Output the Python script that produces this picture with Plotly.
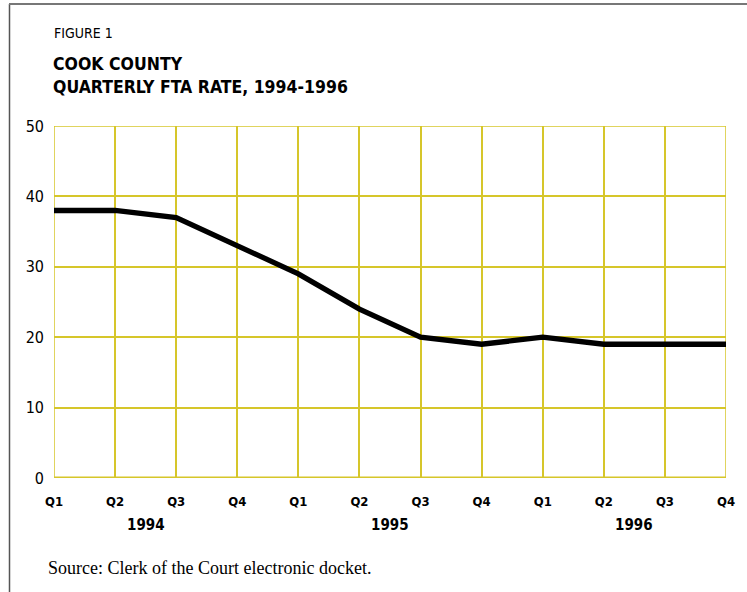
import plotly.graph_objects as go

quarters = ["Q1", "Q2", "Q3", "Q4", "Q1", "Q2", "Q3", "Q4", "Q1", "Q2", "Q3", "Q4"]
years = ["1994", "1995", "1996"]
fta_rate = [38, 38, 37, 33, 29, 24, 20, 19, 20, 19, 19, 19]
y_ticks = [0, 10, 20, 30, 40, 50]

x = list(range(len(quarters)))
grid = "#d6c62a"
cond = "DejaVu Sans Condensed, Liberation Sans Narrow, sans-serif"

L, R, T, B = 54, 21, 126, 114
W, H = 747, 592
pw, ph = W - L - R, H - T - B


def px_x(px):
    return (px - L) / pw


def px_y(py):
    return (H - B - py) / ph


fig = go.Figure()
fig.add_trace(go.Scatter(x=x, y=fta_rate, mode="lines",
                         line=dict(color="black", width=5.3), hoverinfo="skip"))

fig.update_layout(
    width=W, height=H,
    paper_bgcolor="white", plot_bgcolor="white",
    margin=dict(l=L, r=R, t=T, b=B),
    showlegend=False,
    xaxis=dict(range=[0, 11], tickvals=x, ticktext=quarters,
               showgrid=True, gridcolor=grid, gridwidth=1.5,
               zeroline=False, showline=False, ticks="",
               ticklabelstandoff=14,
               tickfont=dict(family=cond, size=13, color="black", weight="bold")),
    yaxis=dict(range=[0, 50], tickvals=y_ticks,
               showgrid=True, gridcolor=grid, gridwidth=1.5,
               zeroline=False, showline=False, ticks="",
               ticklabelstandoff=9,
               tickfont=dict(family=cond, size=16, color="black")),
)

# plot-area border (top, left, right) and thicker zero line
fig.add_shape(type="rect", xref="x", yref="y", x0=0, x1=11, y0=0, y1=50,
              line=dict(color=grid, width=1.5), layer="below")
fig.add_shape(type="line", xref="x", yref="y", x0=0, x1=11, y0=0, y1=0,
              line=dict(color=grid, width=3), layer="below")

# year labels below quarter labels
for i, yr in enumerate(years):
    fig.add_annotation(x=4 * i + 1.5, y=px_y(525), xref="x", yref="paper",
                       text=yr, showarrow=False, yanchor="middle",
                       font=dict(family=cond, size=15, color="black", weight="bold"))

# frame lines (left and top)
fig.add_shape(type="line", xref="paper", yref="paper",
              x0=px_x(9.5), x1=px_x(9.5), y0=px_y(H), y1=px_y(4),
              line=dict(color="#555555", width=1.5))
fig.add_shape(type="line", xref="paper", yref="paper",
              x0=px_x(9), x1=px_x(W), y0=px_y(4), y1=px_y(4),
              line=dict(color="#777777", width=2))

# titles
fig.add_annotation(x=px_x(52), y=px_y(33), xref="paper", yref="paper", text="FIGURE 1",
                   showarrow=False, xanchor="left", yanchor="middle",
                   font=dict(family=cond, size=14, color="black"))
fig.add_annotation(x=px_x(51), y=px_y(76), xref="paper", yref="paper",
                   text="COOK COUNTY<br>QUARTERLY FTA RATE, 1994-1996",
                   showarrow=False, xanchor="left", yanchor="middle", align="left",
                   font=dict(family=cond, size=17.5, color="black", weight="bold"))
fig.add_annotation(x=px_x(46), y=px_y(568), xref="paper", yref="paper",
                   text="Source: Clerk of the Court electronic docket.",
                   showarrow=False, xanchor="left", yanchor="middle",
                   font=dict(family="Liberation Serif, serif", size=18, color="black"))

fig.write_html("out.html", config={"displayModeBar": False},
               post_script="document.body.style.margin='0';")
